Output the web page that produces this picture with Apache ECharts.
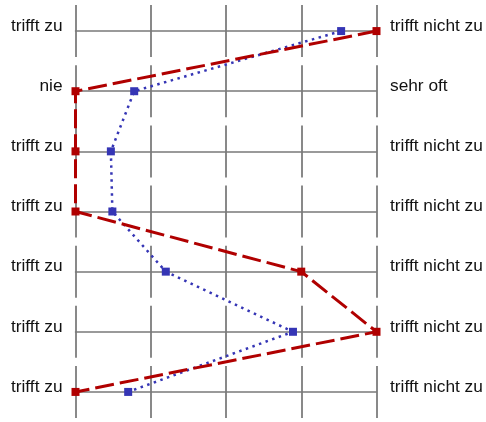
<!DOCTYPE html>
<html>
<head>
<meta charset="utf-8">
<script src="https://cdn.jsdelivr.net/npm/echarts@6/dist/echarts.min.js"></script>
<style>
  html, body { margin: 0; padding: 0; background: #fff; }
  #main { width: 486px; height: 422px; }
</style>
</head>
<body>
<div id="main"></div>
<script>
// Beschriftung links / rechts je Zeile
var leftLabels = ['trifft zu', 'nie', 'trifft zu', 'trifft zu', 'trifft zu', 'trifft zu', 'trifft zu'];
var rightLabels = ['trifft nicht zu', 'sehr oft', 'trifft nicht zu', 'trifft nicht zu', 'trifft nicht zu', 'trifft nicht zu', 'trifft nicht zu'];
// Skala 1..5
var scaleTicks = [1, 2, 3, 4, 5];
// Profile
var redValues = [5, 1, 1, 1, 4, 5, 1];
var blueValues = [4.53, 1.78, 1.47, 1.49, 2.2, 3.89, 1.7];

var myChart = echarts.init(document.getElementById('main'));

var rowKeys = leftLabels.map(function (d, i) { return String(i); });
var gridLeft = 75.5, gridRight = 486 - 376.5, gridTop = 1, rowH = 60.15;
var labelFont = { fontSize: 17.3, fontFamily: 'Liberation Sans, Arial, sans-serif', color: '#111',
	verticalAlign: 'bottom', lineHeight: 10 };

var grids = [], xAxes = [], yAxes = [];
// Hintergrund: pro Zeile ein eigenes Gitter (unterbrochene senkrechte Linien)
for (var i = 0; i < leftLabels.length; i++) {
	var c = gridTop + rowH * (i + 0.5);
	grids.push({ left: gridLeft, right: gridRight, top: c - 26, height: 52 });
	xAxes.push({
		gridIndex: i, type: 'value',
		min: scaleTicks[0], max: scaleTicks[scaleTicks.length - 1], interval: 1,
		axisLine: { show: true, onZero: true, lineStyle: { color: '#7a7a7a', width: 1.5 } },
		axisTick: { show: false }, axisLabel: { show: false },
		splitLine: { show: true, lineStyle: { color: '#626262', width: 1.5 } }
	});
	yAxes.push({ gridIndex: i, type: 'value', min: -1, max: 1, show: false });
}
// Hauptgitter fuer die Linien
var mainIdx = leftLabels.length;
grids.push({ left: gridLeft, right: gridRight, top: gridTop, height: rowH * leftLabels.length });
xAxes.push({ gridIndex: mainIdx, type: 'value', min: 1, max: 5, show: false });
yAxes.push({
	gridIndex: mainIdx, type: 'category', data: rowKeys, inverse: true, position: 'left',
	axisLine: { show: false }, axisTick: { show: false }, splitLine: { show: false },
	axisLabel: Object.assign({ margin: 13,
		formatter: function (v) { return leftLabels[+v]; } }, labelFont)
});
yAxes.push({
	gridIndex: mainIdx, type: 'category', data: rowKeys, inverse: true, position: 'right',
	axisLine: { show: false }, axisTick: { show: false }, splitLine: { show: false },
	axisLabel: Object.assign({ margin: 13.5,
		formatter: function (v) { return rightLabels[+v]; } }, labelFont)
});

myChart.setOption({
	animation: false,
	grid: grids,
	xAxis: xAxes,
	yAxis: yAxes,
	series: [
		{
			name: 'blau', type: 'line',
			xAxisIndex: mainIdx, yAxisIndex: mainIdx,
			data: blueValues.map(function (v, i) { return [v, i]; }),
			symbol: 'rect', symbolSize: 8, clip: false,
			itemStyle: { color: '#3535b5' },
			lineStyle: { color: '#3535b5', width: 2.5, type: [2.5, 4.5] },
			z: 3
		},
		{
			name: 'rot', type: 'line',
			xAxisIndex: mainIdx, yAxisIndex: mainIdx,
			data: redValues.map(function (v, i) { return [v, i]; }),
			symbol: 'rect', symbolSize: 8, clip: false,
			itemStyle: { color: '#b00000' },
			lineStyle: { color: '#b00000', width: 3, type: [19, 6] },
			z: 4
		}
	]
});
</script>
</body>
</html>
